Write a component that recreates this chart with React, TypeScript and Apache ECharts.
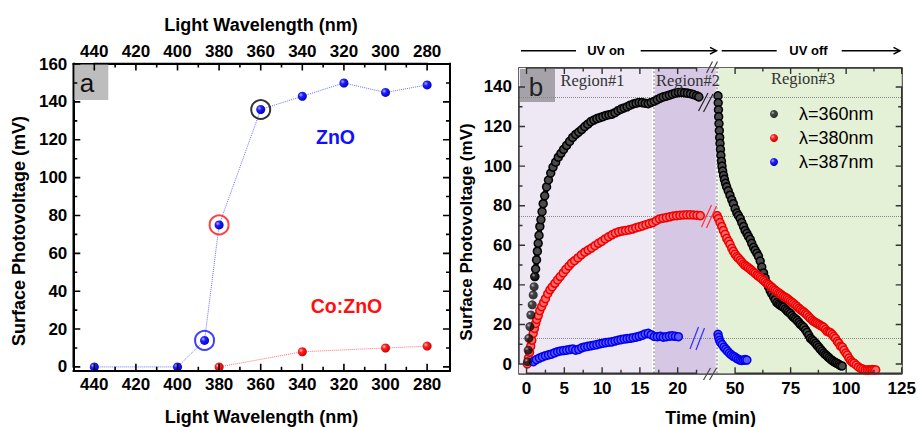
import React, { useEffect, useRef } from "react";
import * as echarts from "echarts";

const SANS = "'Liberation Sans', Arial, sans-serif";
const SERIF = "'Liberation Serif', 'Times New Roman', serif";

/* ---------------- Panel (a): SPV vs wavelength ---------------- */
const wavelengthTicks = [280, 290, 300, 310, 320, 330, 340, 350, 360, 370, 380, 390, 400, 410, 420, 430, 440];
const wavelengthLabels = [280, 300, 320, 340, 360, 380, 400, 420, 440];
const spvTicksA = [0, 10, 20, 30, 40, 50, 60, 70, 80, 90, 100, 110, 120, 130, 140, 150, 160];
const spvLabelsA = [0, 20, 40, 60, 80, 100, 120, 140, 160];
const znoWavelength = [440, 400, 387, 380, 360, 340, 320, 300, 280];
const znoSPV = [0, 0, 14, 75, 136, 143, 150, 145, 149];
const coZnoWavelength = [380, 340, 300, 280];
const coZnoSPV = [0, 8, 10, 11];
const circledWavelength = [387, 380, 360];
const circledSPV = [14, 75, 136];
const circledColors = ["#1010ff", "#ff1010", "#000000"];

/* ---------------- Panel (b): SPV vs time ---------------- */
const timeTicksOn = [0, 2.5, 5, 7.5, 10, 12.5, 15, 17.5, 20, 22.5];
const timeLabelsOn = [0, 5, 10, 15, 20];
const timeTicksOff = [50, 62.5, 75, 87.5, 100, 112.5, 125];
const timeLabelsOff = [50, 75, 100, 125];
const spvTicksB = [0, 10, 20, 30, 40, 50, 60, 70, 80, 90, 100, 110, 120, 130, 140];
const spvLabelsB = [0, 20, 40, 60, 80, 100, 120, 140];
const plateauLevels = [135, 74.5, 13];
const region1End = 16.8;
const region2End = 41.3;
const regionDivider = 41.9;
const region3Start = 42.5;

const black360Early = [
  [0.13, 1.2], [0.22, 7], [0.3, 13], [0.44, 18.9], [0.57, 24.8], [0.75, 29.9], [0.88, 34.9], [1.0, 39.1], [1.1, 44.2],
];
const black360On = [
  [1.1, 44.2], [1.2, 48], [1.32, 52.6], [1.43, 57], [1.54, 61], [1.65, 65], [1.76, 69.5], [1.9, 73], [2.05, 77],
  [2.2, 81], [2.4, 85], [2.65, 89.5], [2.9, 93], [3.2, 96.5], [3.5, 99.5], [3.85, 102], [4.2, 104.5], [4.55, 106.5],
  [4.9, 108.5], [5.3, 110.5], [5.7, 112.5], [6.1, 114.5], [6.5, 116], [6.9, 117.2], [7.3, 118.5], [7.7, 120],
  [8.1, 121.2], [8.5, 122.5], [8.9, 123.3], [9.3, 124], [9.7, 124.5], [10.1, 125], [10.5, 125.6], [10.9, 126],
  [11.3, 126.3], [11.7, 127], [12.1, 128], [12.5, 128.8], [12.9, 129.4], [13.3, 130], [13.7, 130.8], [14.1, 131.4],
  [14.5, 131.8], [14.9, 132.2], [15.3, 132.1], [15.7, 131.8], [16.1, 131.6], [16.5, 132.2], [16.9, 132.8],
  [17.3, 133.6], [17.7, 134.4], [18.1, 135], [18.5, 135.4], [18.9, 135.9], [19.3, 136.4], [19.7, 136.9],
  [20.1, 137.2], [20.5, 137.3], [20.9, 137.1], [21.3, 136.9], [21.7, 136.6], [22.1, 136.2], [22.5, 135.6], [22.8, 135],
];
const red380On = [
  [0.1, 0], [0.25, 3], [0.4, 6], [0.55, 9], [0.7, 12], [0.88, 15.5], [1.05, 18], [1.2, 20.5], [1.35, 22.5],
  [1.55, 24.5], [1.75, 27], [2.0, 29], [2.25, 31], [2.5, 33], [2.8, 35.5], [3.1, 37.5], [3.4, 39], [3.75, 40.8],
  [4.1, 42.5], [4.45, 44.2], [4.85, 46], [5.2, 47.8], [5.6, 49.5], [5.95, 51], [6.35, 52.2], [6.8, 53.6],
  [7.25, 55.2], [7.7, 56.5], [8.15, 57.6], [8.6, 58.6], [9.05, 59.8], [9.5, 61], [9.95, 62], [10.4, 63.2],
  [10.85, 64.3], [11.3, 65.3], [11.75, 66.2], [12.2, 66.8], [12.65, 67.2], [13.1, 67.5], [13.55, 67.8],
  [14.0, 68.2], [14.45, 68.8], [14.9, 69.3], [15.35, 69.8], [15.8, 70.4], [16.25, 71], [16.7, 71.4],
  [17.15, 72.4], [17.6, 73.3], [18.05, 73.7], [18.5, 74], [18.95, 74.4], [19.4, 74.8], [19.85, 75],
  [20.3, 75.2], [20.75, 75.3], [21.2, 75.4], [21.65, 75.4], [22.1, 75.3], [22.55, 75.2], [23.0, 75],
];
const blue387On = [
  [0.9, 1.2], [1.3, 2.2], [1.7, 3], [2.1, 3.6], [2.5, 4.2], [2.9, 4.6], [3.3, 5], [3.7, 5.6], [4.1, 6.2],
  [4.5, 6.6], [4.9, 6.8], [5.3, 7], [5.7, 7.3], [6.1, 7.6], [6.5, 7], [6.9, 7.4], [7.3, 8.2], [7.7, 8.6],
  [8.1, 8.9], [8.5, 9.2], [8.9, 9.5], [9.3, 9.8], [9.7, 10.2], [10.1, 10.5], [10.5, 10.8], [10.9, 11],
  [11.3, 11.2], [11.7, 11.6], [12.1, 12], [12.5, 12.3], [12.9, 12.6], [13.3, 12.8], [13.7, 13], [14.1, 13.3],
  [14.5, 13.6], [14.9, 14], [15.3, 14.5], [15.7, 15.2], [16.1, 15.5], [16.5, 14.8], [16.9, 13.9], [17.3, 13.8],
  [17.7, 14], [18.1, 13.6], [18.5, 13.8], [18.9, 14.1], [19.3, 14.2], [19.7, 14], [20.1, 13.8],
];
const black360Off = [
  [42.3, 135.5], [42.4, 132], [42.5, 128.5], [42.6, 125], [42.75, 121.5], [42.9, 118], [43.05, 114.5],
  [43.2, 111.5], [43.4, 108.5], [43.6, 105.5], [43.85, 102.5], [44.1, 100], [44.4, 97.5], [44.8, 95.3],
  [45.2, 93.3], [45.7, 91.3], [46.2, 89.5], [46.9, 87.5], [47.7, 85.3], [48.5, 83], [49.2, 81], [50.0, 78.5],
  [50.8, 76.3], [51.5, 75], [52.3, 73.5], [53.0, 71.5], [53.8, 69.5], [54.5, 67.5], [55.3, 66], [56.0, 64.5],
  [56.8, 63], [57.5, 61], [58.3, 59], [59.0, 57.5], [59.8, 56], [60.5, 54.5], [61.3, 52], [62.0, 49], [62.8, 46],
  [63.5, 43.5], [64.3, 41], [65.0, 39], [65.8, 37], [66.5, 35.5], [67.3, 34], [68.0, 32.5], [68.8, 31],
  [69.6, 30.3], [70.3, 29.8], [71.1, 29.2], [71.8, 28.7], [72.6, 27.8], [73.3, 27], [74.1, 26.2], [74.9, 25.5],
  [75.6, 24.5], [76.4, 23.5], [77.2, 22.8], [77.9, 22], [78.7, 21], [79.4, 20], [80.2, 19.3], [80.9, 18.5],
  [81.7, 17.2], [82.4, 16], [83.2, 14.5], [83.9, 13], [84.7, 12.2], [85.4, 11.5], [86.2, 10.5], [86.9, 9.5],
  [87.7, 8.5], [88.4, 7.5], [89.2, 6.5], [89.9, 5.5], [90.7, 4.7], [91.4, 4], [92.2, 3.2], [92.9, 2.5],
  [93.7, 1.8], [94.4, 1.2], [95.2, 0.7], [95.9, 0.3], [96.7, -0.2], [97.4, -0.8], [98.2, -1],
];
const red380Off = [
  [41.9, 75], [42.5, 73.5], [43.2, 71.5], [44.0, 69.5], [44.7, 67.5], [45.5, 65.5], [46.2, 63.5], [47.0, 62],
  [47.7, 60.5], [48.5, 58.5], [49.2, 57], [50.0, 55.5], [50.8, 54.3], [51.5, 53.5], [52.3, 52.5], [53.0, 51.5],
  [53.8, 50.5], [54.5, 49.8], [55.3, 49.2], [56.0, 48.6], [56.8, 48], [57.5, 47.2], [58.3, 46.5], [59.0, 45.8],
  [59.8, 45], [60.5, 44.4], [61.3, 43.8], [62.0, 43], [62.8, 42.3], [63.5, 41.5], [64.3, 40.8], [65.0, 40.2],
  [65.8, 39.5], [66.5, 38.8], [67.3, 38], [68.0, 37.3], [68.8, 36.6], [69.6, 36], [70.3, 35.5], [71.0, 34.8],
  [71.8, 34.2], [72.6, 33.7], [73.4, 33.2], [74.1, 32.5], [74.9, 31.8], [75.6, 31.2], [76.4, 30.5], [77.2, 29.8],
  [77.9, 29], [78.7, 28.2], [79.4, 27.5], [80.2, 26.9], [80.9, 26.3], [81.7, 25.5], [82.4, 24.8], [83.2, 23.8],
  [83.9, 23], [84.7, 22.2], [85.4, 21.5], [86.2, 21], [86.9, 20.5], [87.7, 20], [88.4, 19.5], [89.2, 19],
  [89.9, 18.5], [90.7, 17.5], [91.4, 16.5], [92.2, 16.2], [92.9, 15.8], [93.7, 15], [94.4, 14], [95.2, 13],
  [96.0, 11.5], [96.7, 10.5], [97.5, 9], [98.3, 8.5], [99.0, 7], [99.8, 5.5], [100.5, 4.5], [101.2, 3],
  [102.0, 1.8], [102.7, 1], [103.5, 0.4], [104.5, -0.5], [105.5, -1.5], [106.5, -2.2], [107.5, -2.6],
  [108.5, -3], [109.4, -3], [110.2, -3], [111.0, -2.9], [111.7, -2.8], [112.5, -2.9], [113.3, -3],
];
const blue387Off = [
  [42.3, 15], [42.6, 13.5], [43.0, 12], [43.5, 10.8], [44.2, 9.8], [45.0, 8.5], [45.8, 7.5], [46.6, 6.5],
  [47.4, 5.5], [48.2, 4.7], [49.0, 4], [49.8, 3.6], [50.6, 3], [51.4, 2.4], [52.2, 2], [53.0, 1.8],
  [53.8, 2], [54.5, 2.2], [55.3, 2],
];

const zip = (xs: number[], ys: number[]) => xs.map((x, i) => [x, ys[i]]);

/* layout */
const grids = [
  { left: 73.3, top: 63.5, width: 376.7, height: 307.2 },
  { left: 519, top: 68, width: 191, height: 305.3 },
  { left: 710, top: 68, width: 191.7, height: 305.3 },
];
const xRanges = [[269, 450.1], [-1, 24.28], [38.7, 125]];
const yRanges = [[-2, 160.3], [-4.7, 149.6], [-4.7, 149.6]];
const xInverse = [true, false, false];

function mkAxis(o: any) {
  return {
    type: "value",
    gridIndex: o.grid,
    position: o.position,
    inverse: !!o.inverse,
    min: o.min,
    max: o.max,
    axisLine: { show: true, onZero: false, lineStyle: { color: o.color, width: o.lw } },
    axisTick: { show: false },
    axisLabel: o.labels
      ? { show: true, customValues: o.labels, fontFamily: SANS, fontWeight: "bold", fontSize: 17, color: "#000", margin: o.margin }
      : { show: false },
    splitLine: { show: false },
    minorTick: { show: false },
  };
}

const gl = (x1: number, y1: number, x2: number, y2: number, stroke: string, lw = 1.2) => ({
  type: "line",
  shape: { x1, y1, x2, y2 },
  style: { stroke, lineWidth: lw },
  z: 30,
  silent: true,
});
const gt = (x: number, y: number, text: string, size: number, fill: string, weight = "normal", family = SANS, extra: any = {}) => ({
  type: "text",
  x,
  y,
  style: { text, fontSize: size, fontWeight: weight, fontFamily: family, fill, align: "center", verticalAlign: "middle" },
  z: 30,
  silent: true,
  ...extra,
});

function curve(name: string, data: any[], xi: number, yi: number, main: string, fill: string) {
  return {
    type: "line",
    name,
    data,
    xAxisIndex: xi,
    yAxisIndex: yi,
    symbol: "circle",
    symbolSize: 8,
    showAllSymbol: true,
    clip: false,
    lineStyle: { color: main, width: 5 },
    itemStyle: { color: fill, borderColor: main, borderWidth: 1.5 },
    z: 5,
  };
}

/* inward tick marks: every frame edge is drawn as one polyline that dips in at each tick */
const tickSpecs = [
  { kind: "x", edge: "bottom", grid: 0, ticks: wavelengthTicks, majors: wavelengthLabels, color: "#000", lw: 1.6, major: 7, minor: 4 },
  { kind: "x", edge: "top", grid: 0, ticks: wavelengthTicks, majors: wavelengthLabels, color: "#000", lw: 1.6, major: 7, minor: 4 },
  { kind: "y", edge: "left", grid: 0, ticks: spvTicksA, majors: spvLabelsA, color: "#000", lw: 1.6, major: 7, minor: 4 },
  { kind: "y", edge: "right", grid: 0, ticks: spvTicksA, majors: spvLabelsA, color: "#000", lw: 1.6, major: 7, minor: 4 },
  { kind: "x", edge: "bottom", grid: 1, ticks: timeTicksOn, majors: timeLabelsOn, color: "#333", lw: 1.4, major: 6, minor: 3.5 },
  { kind: "x", edge: "top", grid: 1, ticks: timeTicksOn, majors: timeLabelsOn, color: "#333", lw: 1.4, major: 6, minor: 3.5 },
  { kind: "x", edge: "bottom", grid: 2, ticks: timeTicksOff, majors: timeLabelsOff, color: "#333", lw: 1.4, major: 6, minor: 3.5 },
  { kind: "x", edge: "top", grid: 2, ticks: timeTicksOff, majors: timeLabelsOff, color: "#333", lw: 1.4, major: 6, minor: 3.5 },
  { kind: "y", edge: "left", grid: 1, ticks: spvTicksB, majors: spvLabelsB, color: "#333", lw: 1.4, major: 6, minor: 3.5 },
  { kind: "y", edge: "right", grid: 2, ticks: spvTicksB, majors: spvLabelsB, color: "#333", lw: 1.4, major: 6, minor: 3.5 },
];

function buildTicks() {
  const els: any[] = [];
  tickSpecs.forEach((s) => {
    const g = grids[s.grid];
    const pts: number[][] = [];
    s.ticks.forEach((v) => {
      const len = s.majors.indexOf(v) >= 0 ? s.major : s.minor;
      if (s.kind === "x") {
        const [a, b] = xRanges[s.grid];
        const t = (v - a) / (b - a);
        const p = xInverse[s.grid] ? g.left + (1 - t) * g.width : g.left + t * g.width;
        const y0 = s.edge === "bottom" ? g.top + g.height : g.top;
        const y1 = s.edge === "bottom" ? y0 - len : y0 + len;
        pts.push([p, y0], [p, y1], [p, y0]);
      } else {
        const [a, b] = yRanges[s.grid];
        const p = g.top + g.height - ((v - a) / (b - a)) * g.height;
        const x0 = s.edge === "left" ? g.left : g.left + g.width;
        const x1 = s.edge === "left" ? x0 + len : x0 - len;
        pts.push([x0, p], [x1, p], [x0, p]);
      }
    });
    els.push({
      type: "polyline",
      shape: { points: pts },
      style: { stroke: s.color, lineWidth: s.lw, fill: null },
      z: 40,
      silent: true,
    });
  });
  return els;
}

export default function App() {
  const ref = useRef<HTMLDivElement>(null);
  useEffect(() => {
    if (!ref.current) return;
    const chart = echarts.init(ref.current, null, { renderer: "svg" });
    const ballBlue = {
      type: "radial", x: 0.35, y: 0.35, r: 0.7,
      colorStops: [{ offset: 0, color: "#b0b4ff" }, { offset: 0.35, color: "#2020ff" }, { offset: 1, color: "#0000c0" }],
    };
    const ballRed = {
      type: "radial", x: 0.35, y: 0.35, r: 0.7,
      colorStops: [{ offset: 0, color: "#ffc0c0" }, { offset: 0.35, color: "#ff2020" }, { offset: 1, color: "#c80000" }],
    };
    const ballBlack = {
      type: "radial", x: 0.35, y: 0.35, r: 0.7,
      colorStops: [{ offset: 0, color: "#bbbbbb" }, { offset: 0.3, color: "#1a1a1a" }, { offset: 1, color: "#000" }],
    };
    const bgLine = { color: "#8a8a8a", type: "dotted", width: 1 };
    const graphicEls: any[] = [
      /* panel a decorations */
      { type: "rect", shape: { x: 74.3, y: 64.5, width: 34, height: 35.5 }, style: { fill: "#BDBDBD" }, z: 3, silent: true },
      gt(87, 83, "a", 26, "#111"),
      gt(261, 25, "Light Wavelength (nm)", 18, "#000", "bold"),
      gt(261.5, 416.5, "Light Wavelength (nm)", 18, "#000", "bold"),
      gt(18.5, 231, "Surface Photovoltage (mV)", 18, "#000", "bold", SANS, { rotation: Math.PI / 2 }),
      gt(335.5, 137, "ZnO", 19.5, "#1010ff", "bold"),
      gt(346.5, 306, "Co:ZnO", 19.5, "#ff1010", "bold"),
      /* panel b decorations */
      { type: "rect", shape: { x: 520, y: 69, width: 35, height: 33 }, style: { fill: "#A6A2AA" }, z: 3, silent: true },
      gt(536, 86.5, "b", 26, "#222"),
      gt(592.5, 80, "Region#1", 16.5, "#333", "normal", SERIF),
      gt(688, 80, "Region#2", 16.5, "#333", "normal", SERIF),
      gt(803, 78, "Region#3", 16.5, "#333", "normal", SERIF),
      gt(466, 232, "Surface Photovoltage (mV)", 17, "#000", "bold", SANS, { rotation: Math.PI / 2 }),
      gt(710.7, 418, "Time (min)", 18, "#000", "bold"),
      /* UV on / off arrows */
      gl(521, 50.7, 576, 50.7, "#000", 1.5),
      gt(606, 50.5, "UV on", 13, "#000", "bold"),
      gl(640.7, 50.7, 716, 50.7, "#000", 1.5),
      { type: "polyline", shape: { points: [[710, 47.3], [716.5, 50.7], [710, 54.1]] }, style: { stroke: "#000", lineWidth: 1.5, fill: null }, z: 30, silent: true },
      gl(721.7, 50.7, 776.7, 50.7, "#000", 1.5),
      gt(808.5, 50.5, "UV off", 13, "#000", "bold"),
      gl(841.7, 50.7, 900, 50.7, "#000", 1.5),
      { type: "polyline", shape: { points: [[893.5, 47.3], [900, 50.7], [893.5, 54.1]] }, style: { stroke: "#000", lineWidth: 1.5, fill: null }, z: 30, silent: true },
      /* axis breaks */
      gl(706.5, 73, 712.5, 61.5, "#444"),
      gl(711.5, 73, 717.5, 61.5, "#444"),
      gl(703.5, 380, 710.5, 368, "#444"),
      gl(709.5, 380, 716.5, 368, "#444"),
      /* series breaks */
      gl(698.5, 111, 708, 93, "#222"),
      gl(703.5, 112, 713, 94, "#222"),
      gl(701.5, 227, 711.5, 205, "#ff3030"),
      gl(706.5, 228, 716.5, 206, "#ff3030"),
      gl(690, 349, 698.5, 327, "#3030ff"),
      gl(696, 350, 704.5, 328, "#3030ff"),
      ...buildTicks(),
    ];
    const option: any = {
      animation: false,
      backgroundColor: "#fff",
      grid: grids.map((g) => ({ ...g, containLabel: false, outerBoundsMode: "none" })),
      xAxis: [
        mkAxis({ grid: 0, position: "bottom", inverse: true, min: xRanges[0][0], max: xRanges[0][1], color: "#000", lw: 2, labels: wavelengthLabels, margin: 5 }),
        mkAxis({ grid: 0, position: "top", inverse: true, min: xRanges[0][0], max: xRanges[0][1], color: "#000", lw: 2, labels: wavelengthLabels, margin: 4 }),
        mkAxis({ grid: 1, position: "bottom", min: xRanges[1][0], max: xRanges[1][1], color: "#333", lw: 1.5, labels: timeLabelsOn, margin: 7 }),
        mkAxis({ grid: 1, position: "top", min: xRanges[1][0], max: xRanges[1][1], color: "#333", lw: 1.5 }),
        mkAxis({ grid: 2, position: "bottom", min: xRanges[2][0], max: xRanges[2][1], color: "#333", lw: 1.5, labels: timeLabelsOff, margin: 7 }),
        mkAxis({ grid: 2, position: "top", min: xRanges[2][0], max: xRanges[2][1], color: "#333", lw: 1.5 }),
      ],
      yAxis: [
        mkAxis({ grid: 0, position: "left", min: yRanges[0][0], max: yRanges[0][1], color: "#000", lw: 2, labels: spvLabelsA, margin: 6 }),
        mkAxis({ grid: 0, position: "right", min: yRanges[0][0], max: yRanges[0][1], color: "#000", lw: 2 }),
        mkAxis({ grid: 1, position: "left", min: yRanges[1][0], max: yRanges[1][1], color: "#333", lw: 1.5, labels: spvLabelsB, margin: 7 }),
        mkAxis({ grid: 2, position: "right", min: yRanges[2][0], max: yRanges[2][1], color: "#333", lw: 1.5 }),
      ],
      legend: {
        left: 765,
        top: 99,
        orient: "vertical",
        itemWidth: 40,
        itemHeight: 8,
        itemGap: 4,
        selectedMode: false,
        textStyle: { fontFamily: SANS, fontSize: 18, color: "#000", lineHeight: 20 },
        data: [
          { name: "λ=360nm", icon: "circle", itemStyle: { color: ballBlack, borderWidth: 0 } },
          { name: "λ=380nm", icon: "circle", itemStyle: { color: ballRed, borderWidth: 0 } },
          { name: "λ=387nm", icon: "circle", itemStyle: { color: ballBlue, borderWidth: 0 } },
        ],
      },
      series: [
        {
          type: "line",
          name: "ZnO",
          xAxisIndex: 0,
          yAxisIndex: 0,
          data: zip(znoWavelength, znoSPV),
          symbol: "circle",
          symbolSize: 9,
          clip: false,
          lineStyle: { color: "#7070ff", width: 1, type: "dotted" },
          itemStyle: { color: ballBlue },
          z: 5,
        },
        {
          type: "line",
          name: "Co:ZnO",
          xAxisIndex: 0,
          yAxisIndex: 0,
          data: zip(coZnoWavelength, coZnoSPV),
          symbol: "circle",
          symbolSize: 9,
          clip: false,
          lineStyle: { color: "#ff7070", width: 1, type: "dotted" },
          itemStyle: { color: ballRed },
          z: 5,
        },
        {
          type: "scatter",
          name: "circled",
          xAxisIndex: 0,
          yAxisIndex: 0,
          symbol: "circle",
          symbolSize: 19,
          data: circledWavelength.map((w, i) => ({
            value: [w, circledSPV[i]],
            itemStyle: { color: "rgba(0,0,0,0)", borderColor: circledColors[i], borderWidth: 2 },
          })),
          z: 6,
        },
        {
          type: "line",
          name: "bg1",
          xAxisIndex: 2,
          yAxisIndex: 2,
          data: [],
          z: 1,
          silent: true,
          markArea: {
            silent: true,
            label: { show: false },
            data: [
              [{ xAxis: xRanges[1][0], itemStyle: { color: "#EEE8F4" } }, { xAxis: region1End }],
              [{ xAxis: region1End, itemStyle: { color: "#D6C8E4" } }, { xAxis: xRanges[1][1] }],
            ],
          },
          markLine: {
            silent: true,
            symbol: "none",
            label: { show: false },
            data: [
              ...plateauLevels.map((v) => ({ yAxis: v, lineStyle: bgLine })),
              { xAxis: region1End, lineStyle: { color: "#ffffff", type: "solid", width: 3 } },
            ],
          },
        },
        {
          type: "line",
          name: "bg1b",
          xAxisIndex: 2,
          yAxisIndex: 2,
          data: [],
          z: 2,
          silent: true,
          markLine: {
            silent: true,
            symbol: "none",
            label: { show: false },
            data: [{ xAxis: region1End, lineStyle: { color: "#9a9a9a", type: [2, 2], width: 1.5 } }],
          },
        },
        {
          type: "line",
          name: "bg2",
          xAxisIndex: 4,
          yAxisIndex: 3,
          data: [],
          z: 1,
          silent: true,
          markArea: {
            silent: true,
            label: { show: false },
            data: [
              [{ xAxis: xRanges[2][0], itemStyle: { color: "#D6C8E4" } }, { xAxis: region2End }],
              [{ xAxis: region3Start, itemStyle: { color: "#E4F1D6" } }, { xAxis: xRanges[2][1] }],
            ],
          },
          markLine: {
            silent: true,
            symbol: "none",
            label: { show: false },
            data: [...plateauLevels.map((v) => ({ yAxis: v, lineStyle: bgLine }))],
          },
        },
        {
          type: "line",
          name: "bg2b",
          xAxisIndex: 4,
          yAxisIndex: 3,
          data: [],
          z: 2,
          silent: true,
          markLine: {
            silent: true,
            symbol: "none",
            label: { show: false },
            data: [{ xAxis: regionDivider, lineStyle: { color: "#9a9a9a", type: [2, 2], width: 1.5 } }],
          },
        },
        {
          type: "scatter",
          name: "λ=360nm",
          xAxisIndex: 2,
          yAxisIndex: 2,
          data: black360Early,
          symbol: "circle",
          symbolSize: 9,
          clip: false,
          itemStyle: { color: ballBlack },
          z: 6,
        },
        curve("λ=360nm", black360On, 2, 2, "#000000", "#4a4a4a"),
        curve("λ=380nm", red380On, 2, 2, "#ee0000", "#ff6a6a"),
        curve("λ=387nm", blue387On, 2, 2, "#0000ee", "#5a5aff"),
        curve("λ=360nm", black360Off, 4, 3, "#000000", "#4a4a4a"),
        curve("λ=380nm", red380Off, 4, 3, "#ee0000", "#ff6a6a"),
        curve("λ=387nm", blue387Off, 4, 3, "#0000ee", "#5a5aff"),
      ],
      graphic: { elements: graphicEls },
    };
    chart.setOption(option);
    return () => chart.dispose();
  }, []);
  return <div ref={ref} style={{ position: "absolute", left: 0, top: 0, width: 918, height: 427, background: "#fff" }} />;
}
